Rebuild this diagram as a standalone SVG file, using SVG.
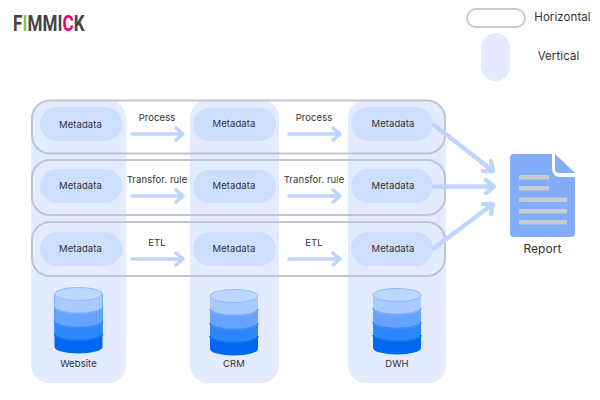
<svg xmlns="http://www.w3.org/2000/svg" width="600" height="400" viewBox="0 0 600 400">
<style>
text{font-family:"Inter","Liberation Sans",sans-serif;fill:#333;text-anchor:middle;letter-spacing:.08px}
.s{font-size:9.5px}
.l{font-size:11.5px}
.col{fill:#e2ebff}
.pill{fill:#cddfff}
.row{fill:none;stroke:#bfc5d2;stroke-width:2}
.ar{fill:none;stroke:#bed6ff;stroke-width:3.600;stroke-linecap:round;stroke-linejoin:round}
.big{stroke-width:4.400}
.bar{fill:#c8ccd2}
.sep{fill:none;stroke-width:1.800}
</style>
<defs>
<g id="db">
<path d="M-24 0V53A24 6.500 0 0 0 24 53V0Z" fill="#0068f0"/>
<path d="M-24 0V40A24 6.500 0 0 0 24 40V0Z" fill="#2b86ff"/>
<path class="sep" d="M-24 40A24 6.500 0 0 0 24 40" stroke="#1470e6"/>
<path d="M-24 0V27A24 6.500 0 0 0 24 27V0Z" fill="#66a3ff"/>
<path class="sep" d="M-24 27A24 6.500 0 0 0 24 27" stroke="#3d8cf5"/>
<path d="M-24 0V13A24 6.500 0 0 0 24 13V0Z" fill="#a8caff"/>
<path class="sep" d="M-24 13A24 6.500 0 0 0 24 13" stroke="#74abff"/>
<ellipse cx="0" cy="0" rx="24" ry="6.500" fill="#bcd7ff" stroke="#8fbcff" stroke-width="1"/>
</g>
</defs>
<g id="logo"><text transform="translate(13 31) scale(.76 1)" style="text-anchor:start;font-family:'Roboto','Liberation Sans',sans-serif;font-weight:700;font-size:22.5px;fill:#444">F<tspan fill="#8cc63f">I</tspan>MMI<tspan fill="#e6007e">C</tspan>K</text></g>
<g id="legend-horizontal"><rect x="467" y="9" width="58" height="18" rx="9" fill="#fff" stroke="#c9ccd2" stroke-width="2"/><text class="l" x="562.500" y="21">Horizontal</text></g>
<g id="legend-vertical"><rect x="481" y="33" width="29" height="48" rx="14.500" fill="#e2ebff"/><text class="l" x="558.500" y="60">Vertical</text></g>
<g id="col-website"><rect class="col" x="31" y="100" width="95" height="283" rx="18"/><use href="#db" x="78.500" y="294"/><text class="s" x="78.500" y="367">Website</text></g>
<g id="col-crm"><rect class="col" x="190" y="100" width="89" height="283" rx="18"/><use href="#db" x="234" y="296"/><text class="s" x="234" y="367">CRM</text></g>
<g id="col-dwh"><rect class="col" x="348" y="100" width="98" height="283" rx="18"/><use href="#db" x="397" y="295"/><text class="s" x="397" y="367">DWH</text></g>
<g id="row-process"><rect class="row" x="32" y="100.500" width="413" height="53" rx="18"/></g>
<g id="row-transform"><rect class="row" x="32" y="160" width="413" height="55" rx="18"/></g>
<g id="row-etl"><rect class="row" x="32" y="222" width="413" height="54" rx="18"/></g>
<g id="m11"><rect class="pill" x="40" y="107" width="82" height="34" rx="17"/><text class="s" x="80.500" y="128">Metadata</text></g>
<g id="m12"><rect class="pill" x="193" y="108" width="83" height="33" rx="16.500"/><text class="s" x="234" y="127">Metadata</text></g>
<g id="m13"><rect class="pill" x="351" y="107" width="82" height="34" rx="17"/><text class="s" x="393" y="127">Metadata</text></g>
<g id="m21"><rect class="pill" x="40" y="169" width="82" height="34" rx="17"/><text class="s" x="80.500" y="189">Metadata</text></g>
<g id="m22"><rect class="pill" x="193" y="170" width="83" height="33" rx="16.500"/><text class="s" x="234" y="189">Metadata</text></g>
<g id="m23"><rect class="pill" x="351" y="169" width="82" height="34" rx="17"/><text class="s" x="393" y="189">Metadata</text></g>
<g id="m31"><rect class="pill" x="40" y="232" width="82" height="34" rx="17"/><text class="s" x="80.500" y="252">Metadata</text></g>
<g id="m32"><rect class="pill" x="193" y="232" width="83" height="34" rx="17"/><text class="s" x="234" y="252">Metadata</text></g>
<g id="m33"><rect class="pill" x="351" y="232" width="82" height="34" rx="17"/><text class="s" x="393" y="252">Metadata</text></g>
<g id="connectors">
<path class="ar" d="M132 134H182M176 128L183 134L176 140"/>
<path class="ar" d="M289 134H339M333 128L340 134L333 140"/>
<path class="ar" d="M132 196H182M176 190L183 196L176 202"/>
<path class="ar" d="M289 196H339M333 190L340 196L333 202"/>
<path class="ar" d="M132 259H182M176 253L183 259L176 265"/>
<path class="ar" d="M289 259H339M333 253L340 259L333 265"/>
<path class="ar big" d="M434 125L493 171M483 171H493L491 161"/>
<path class="ar big" d="M434 186.500H494M486 180L494 186.500L486 193"/>
<path class="ar big" d="M434 248L493 204M491 214L493 204H483"/>
</g>
<g id="labels">
<text class="s" x="157" y="121">Process</text><text class="s" x="314" y="121">Process</text>
<text class="s" x="157" y="183">Transfor. rule</text><text class="s" x="314" y="183">Transfor. rule</text>
<text class="s" x="157" y="246">ETL</text><text class="s" x="314" y="246">ETL</text>
</g>
<g id="report">
<path d="M514 154H552V168Q552 177 561 177H575V233Q575 237 571 237H514Q510 237 510 233V158Q510 154 514 154Z" fill="#82adfb"/>
<path d="M555 154L575 173H559Q555 173 555 169Z" fill="#82adfb"/>
<rect class="bar" x="519" y="175" width="30" height="4.500" rx="1"/>
<rect class="bar" x="519" y="186" width="30" height="4.500" rx="1"/>
<rect class="bar" x="519" y="197.500" width="48" height="4.500" rx="1"/>
<rect class="bar" x="519" y="209" width="48" height="4.500" rx="1"/>
<rect class="bar" x="519" y="220" width="48" height="4.500" rx="1"/>
<text class="l" x="542.500" y="253" style="font-size:12px">Report</text>
</g>
</svg>
